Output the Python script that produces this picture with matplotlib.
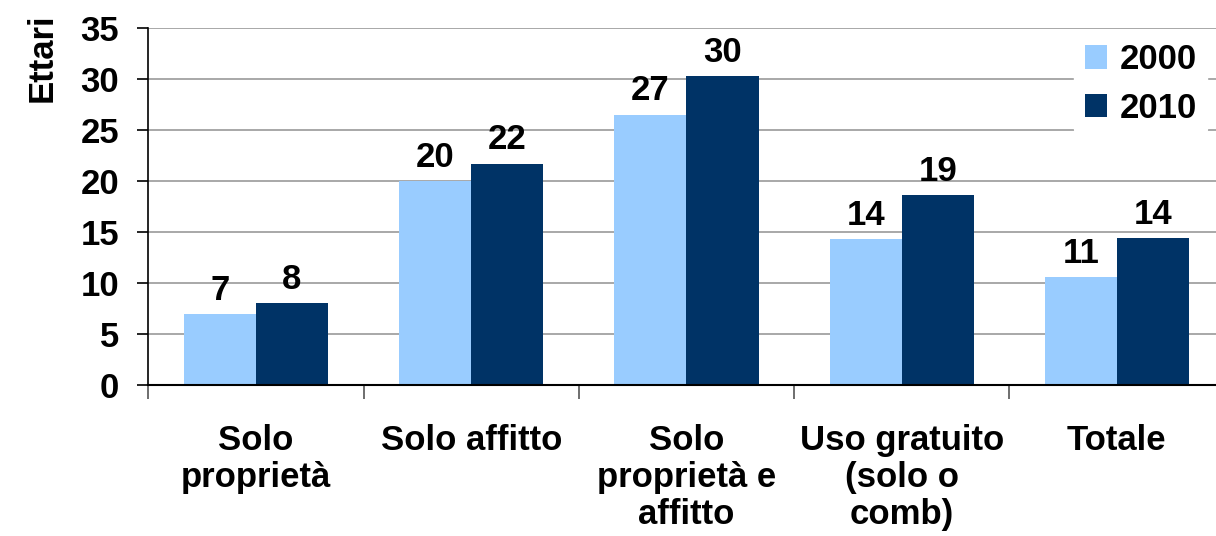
import numpy as np
import matplotlib.pyplot as plt

plt.rcParams['font.family'] = ['Liberation Sans', 'DejaVu Sans']
plt.rcParams['font.weight'] = 'bold'

categories = ['Solo\nproprietà', 'Solo affitto', 'Solo\nproprietà e\naffitto',
              'Uso gratuito\n(solo o\ncomb)', 'Totale']
values_2000 = [6.9, 20.0, 26.5, 14.3, 10.6]
values_2010 = [8.0, 21.7, 30.3, 18.6, 14.4]
labels_2000 = ['7', '20', '27', '14', '11']
labels_2010 = ['8', '22', '30', '19', '14']

fs = 25

fig = plt.figure(figsize=(12.16, 5.36), dpi=100)
ax = fig.add_axes([0.122, 0.282, 0.885, 0.666])

x = np.arange(len(categories))
w = 0.335
b1 = ax.bar(x - w / 2, values_2000, w, color='#99ccff', label='2000', zorder=2)
b2 = ax.bar(x + w / 2, values_2010, w, color='#003366', label='2010', zorder=2)

for bars, labs in [(b1, labels_2000), (b2, labels_2010)]:
    for bar, lab in zip(bars, labs):
        ax.text(bar.get_x() + bar.get_width() / 2, bar.get_height() + 0.7, lab,
                ha='center', va='bottom', fontsize=fs, fontweight='bold')

ax.set_ylim(0, 35)
ax.set_xlim(-0.5, len(categories) - 0.5)
ax.set_yticks(range(0, 36, 5))
ax.tick_params(axis='y', labelsize=fs, length=8, width=1.2, direction='out', pad=13)
ax.yaxis.grid(True, color='#999999', linewidth=1.2, zorder=0)
ax.set_axisbelow(True)

ax.set_xticks(np.arange(-0.5, len(categories), 1))
ax.set_xticklabels([])
ax.tick_params(axis='x', length=10, width=1.2, direction='out', color='#555555')
for xi, cat in zip(x, categories):
    ax.text(xi, -3.8, cat, ha='center', va='top', fontsize=fs,
            fontweight='bold', linespacing=1.17)

for s in ['top', 'right']:
    ax.spines[s].set_visible(False)
ax.spines['left'].set_linewidth(1.2)
ax.spines['bottom'].set_linewidth(1.5)

fig.text(0.035, 0.893, 'Ettari', rotation=90, ha='center', va='center',
         fontsize=fs, fontweight='bold')

leg = ax.legend(loc='upper right', bbox_to_anchor=(1.0, 1.035), frameon=True,
                fontsize=fs, handlelength=0.65, handleheight=0.65,
                handletextpad=0.35, labelspacing=0.45, borderpad=0.3)
leg.get_frame().set_facecolor('white')
leg.get_frame().set_edgecolor('white')
leg.get_frame().set_alpha(1)
for t in leg.get_texts():
    t.set_fontweight('bold')

plt.savefig('out.png', dpi=100)
